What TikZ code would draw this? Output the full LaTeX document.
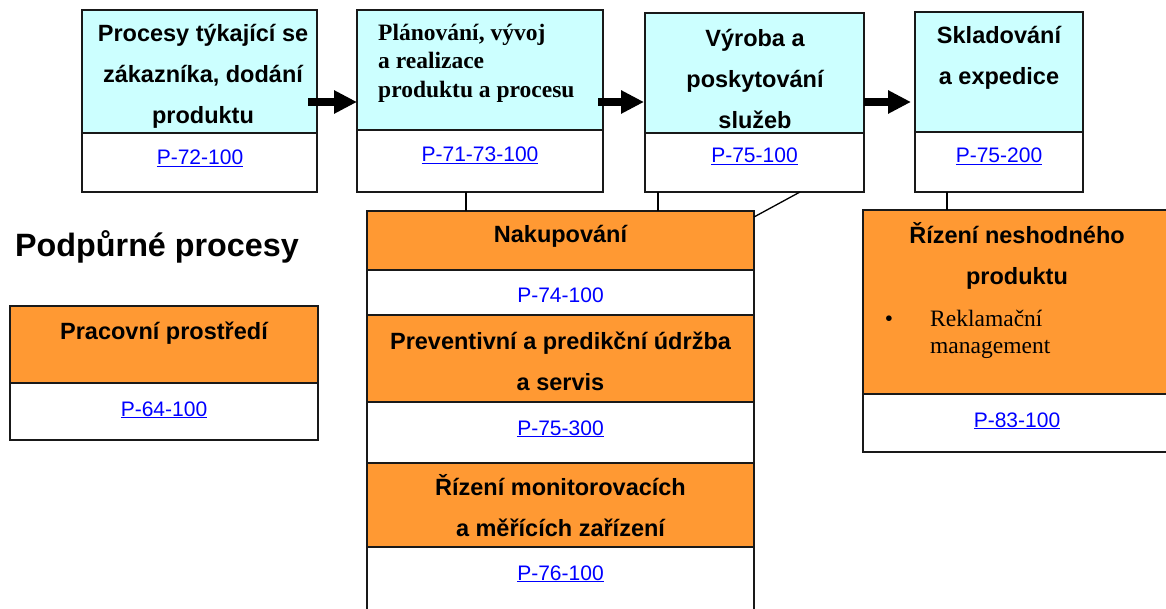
\documentclass[tikz,border=0pt]{standalone}
\usepackage{fontspec}
\setmainfont{Liberation Sans}
\newfontfamily\serifb{Liberation Serif}
\usetikzlibrary{arrows.meta}

\definecolor{azur}{HTML}{CCFFFF}
\definecolor{oranz}{HTML}{FF9933}
\definecolor{odkaz}{HTML}{0000FF}

\tikzset{
  box/.style={draw=black!90, line width=1.6pt, inner sep=0pt, outer sep=0pt, anchor=north west},
  hlav/.style={box, fill=azur},
  podp/.style={box, fill=oranz},
  odk/.style={box, fill=white},
  nadp/.style={font=\bfseries\fontsize{23.5}{41}\selectfont, align=center, inner sep=0pt},
  lnk/.style={font=\fontsize{21}{25}\selectfont, text=odkaz, inner sep=0pt, anchor=base},
  pijl/.style={line width=8pt, -{Triangle[length=23pt,width=22pt]}},
  spoj/.style={line width=1.3pt},
}

\begin{document}
\begin{tikzpicture}[x=1pt,y=1pt]
	\useasboundingbox (0,0) rectangle (1166,-609);
	\clip (0,0) rectangle (1166,-609);

	% hlavni procesy
	\node[hlav, minimum width=235pt, minimum height=123pt] (t1) at (82,-10) {};
	\node[odk, minimum width=235pt, minimum height=59pt] (l1) at (82,-133) {};
	\node[hlav, minimum width=246pt, minimum height=120pt] (t2) at (357,-10) {};
	\node[odk, minimum width=246pt, minimum height=62pt] (l2) at (357,-130) {};
	\node[hlav, minimum width=219pt, minimum height=120pt] (t3) at (645,-13) {};
	\node[odk, minimum width=219pt, minimum height=59pt] (l3) at (645,-133) {};
	\node[hlav, minimum width=168pt, minimum height=120pt] (t4) at (915,-12) {};
	\node[odk, minimum width=168pt, minimum height=60pt] (l4) at (915,-132) {};

	% podpurne procesy
	\node[podp, minimum width=308pt, minimum height=77pt] (pr) at (10,-306) {};
	\node[odk, minimum width=308pt, minimum height=57pt] (prl) at (10,-383) {};
	\node[podp, minimum width=387pt, minimum height=59pt] (n1) at (367,-211) {};
	\node[odk, minimum width=387pt, minimum height=45pt] (n1l) at (367,-270) {};
	\node[podp, minimum width=387pt, minimum height=87pt] (n2) at (367,-315) {};
	\node[odk, minimum width=387pt, minimum height=61pt] (n2l) at (367,-402) {};
	\node[podp, minimum width=387pt, minimum height=84pt] (n3) at (367,-463) {};
	\node[odk, minimum width=387pt, minimum height=80pt] (n3l) at (367,-547) {};
	\node[podp, minimum width=310pt, minimum height=184pt] (rz) at (863,-210) {};
	\node[odk, minimum width=310pt, minimum height=58pt] (rzl) at (863,-394) {};

	% texty
	\node[nadp] (t1x) at (203,-76) {Procesy týkající se\\zákazníka, dodání\\produktu};
	\node[nadp, font=\serifb\bfseries\fontsize{23.5}{28.5}\selectfont, align=left, anchor=west] (t2x) at (378,-63) {Plánování, vývoj\\a realizace\\produktu a procesu};
	\node[nadp] (t3x) at (755,-79) {Výroba a\\poskytování\\služeb};
	\node[nadp] (t4x) at (999,-58) {Skladování\\a expedice};
	\node[nadp, anchor=base west, font=\bfseries\fontsize{32.3}{36}\selectfont] (podx) at (15,-256.5) {Podpůrné procesy};
	\node[nadp, anchor=base] (prx) at (164,-339.3) {Pracovní prostředí};
	\node[nadp, anchor=base] (n1x) at (560.5,-242.7) {Nakupování};
	\node[nadp] (n2x) at (560.5,-361) {Preventivní a predikční údržba\\a servis};
	\node[nadp] (n3x) at (560.5,-506) {Řízení monitorovacích\\a měřících zařízení};
	\node[nadp] (rzx) at (1017,-256) {Řízení neshodného\\produktu};
	\node[inner sep=0pt, anchor=base, font=\serifb\fontsize{23.5}{28}\selectfont] (bul) at (889,-326) {\textbullet};
	\node[inner sep=0pt, anchor=west, align=left, font=\serifb\fontsize{23.5}{27}\selectfont] (rek) at (930,-334) {Reklamační\\management};

	% odkazy
	\node[lnk] (p1) at (200,-164.5) {\underline{P-72-100}};
	\node[lnk] (p2) at (480,-162) {\underline{P-71-73-100}};
	\node[lnk] (p3) at (754.5,-163) {\underline{P-75-100}};
	\node[lnk] (p4) at (999,-163) {\underline{P-75-200}};
	\node[lnk] (p5) at (164,-416) {\underline{P-64-100}};
	\node[lnk] (p6) at (560.5,-302.7) {P-74-100};
	\node[lnk] (p7) at (560.5,-435) {\underline{P-75-300}};
	\node[lnk] (p8) at (560.5,-580) {\underline{P-76-100}};
	\node[lnk] (p9) at (1017,-427) {\underline{P-83-100}};

	% sipky a spojky
	\coordinate (sip) at (0,-102);
	\coordinate (k1) at (466,0);
	\coordinate (k2) at (658,0);
	\coordinate (k3) at (947,0);
	\coordinate (k4) at (800,0);
	\draw[pijl, shorten <=-9pt] (t1.east |- sip) -- (t2.west |- sip);
	\draw[pijl, shorten <=-5pt, shorten >=1pt] (t2.east |- sip) -- (t3.west |- sip);
	\draw[pijl, shorten >=4pt] (t3.east |- sip) -- (t4.west |- sip);
	\draw[spoj] (l2.south -| k1) -- (n1.north -| k1);
	\draw[spoj] (l3.south -| k2) -- (n1.north -| k2);
	\draw[spoj] (l3.south -| k4) -- ([yshift=-6pt]n1.north east);
	\draw[spoj] (l4.south -| k3) -- (rz.north -| k3);
\end{tikzpicture}
\end{document}
